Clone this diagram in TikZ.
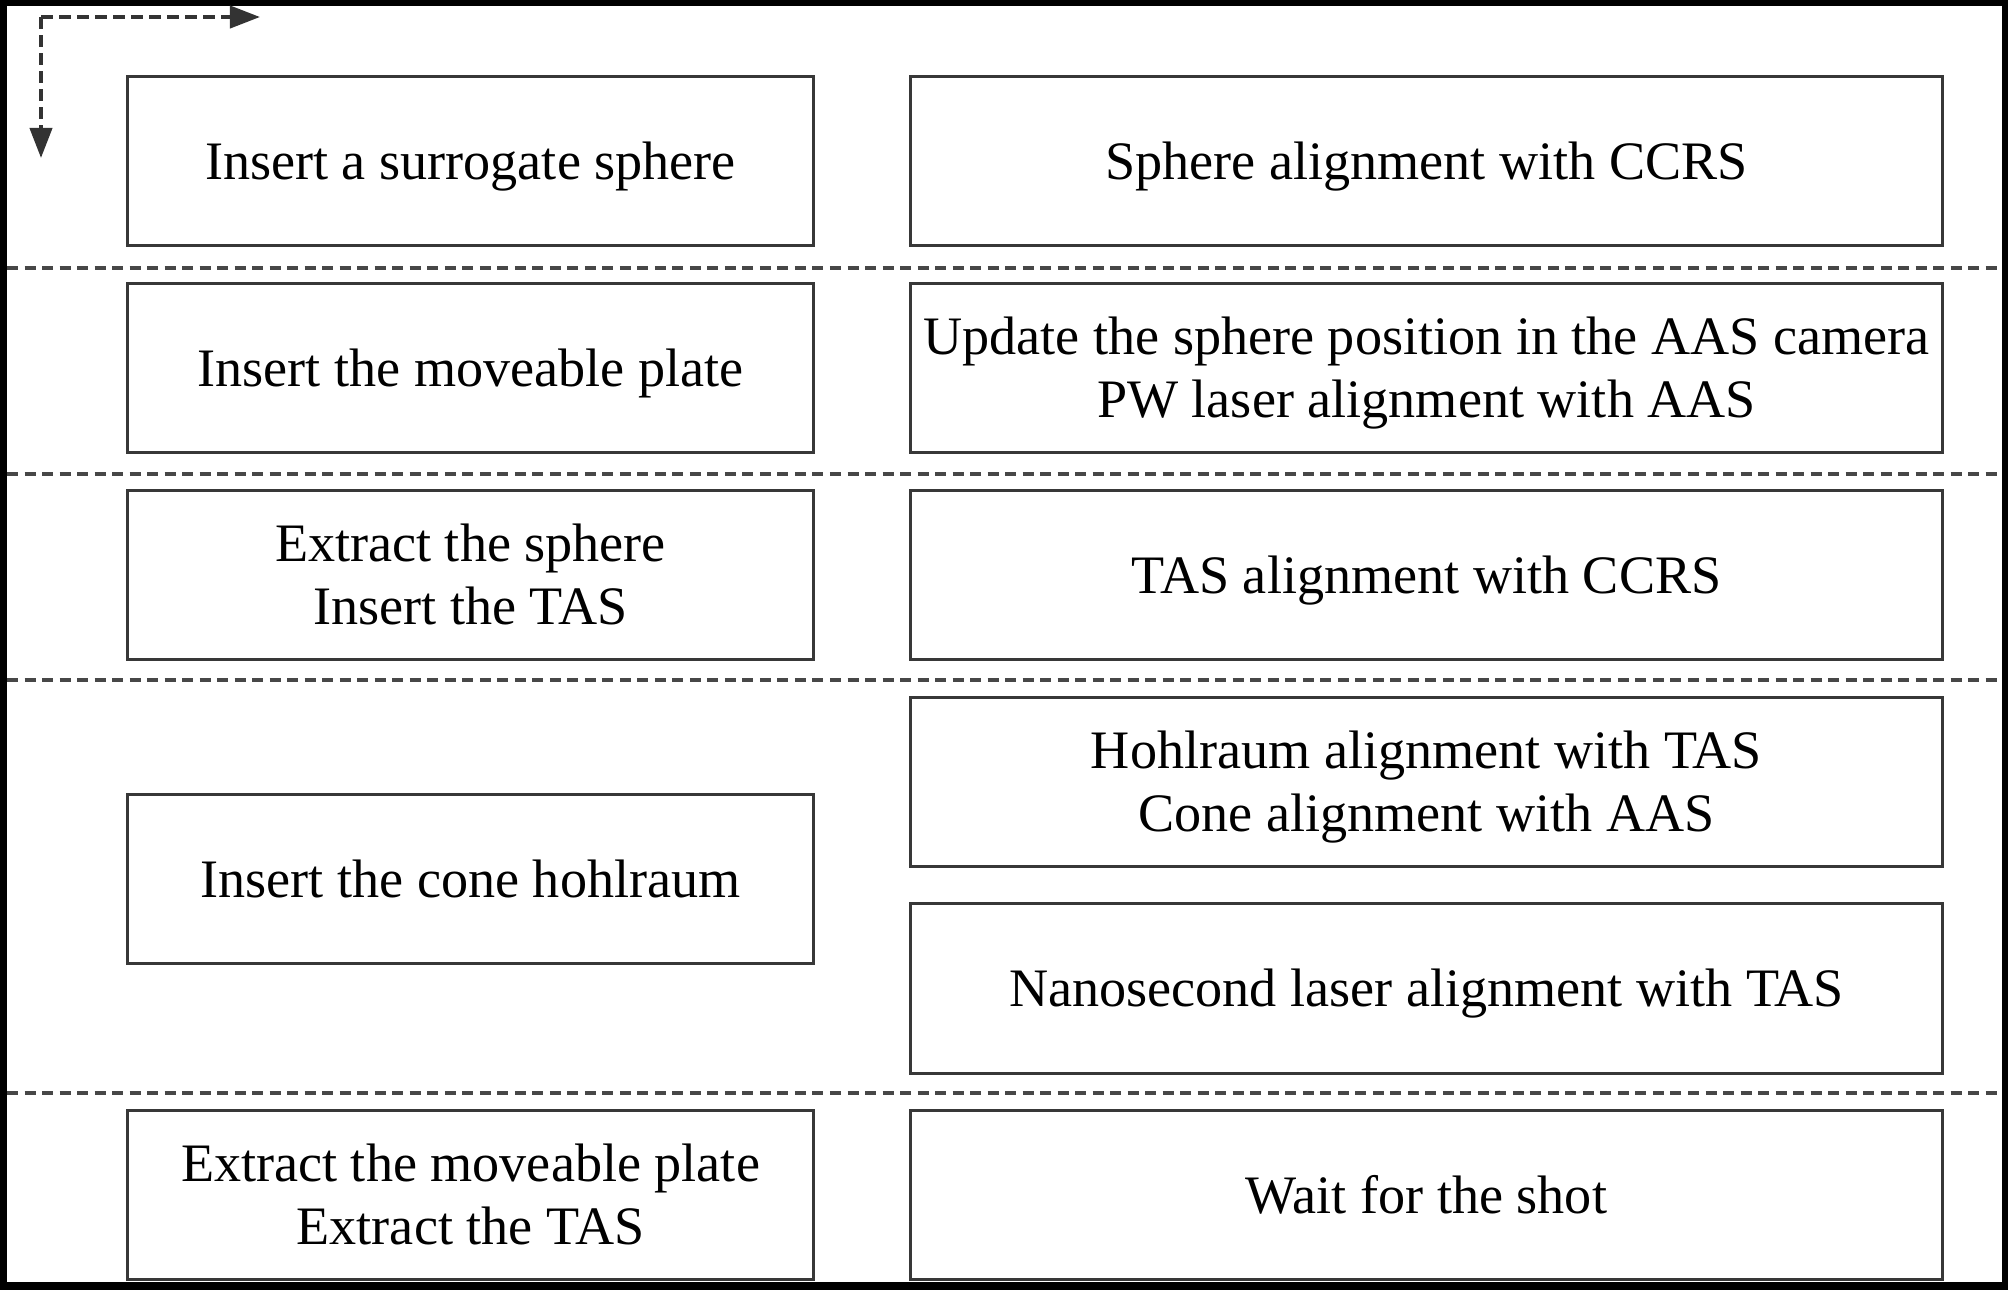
\documentclass[tikz,border=0pt]{standalone}
\usepackage{fontspec}
\setmainfont{Liberation Serif}
\usetikzlibrary{arrows.meta}

\begin{document}
\begin{tikzpicture}[x=0.01cm, y=-0.01cm,
        stage/.style={rectangle, draw=black!78, line width=0.03cm, inner sep=0pt, align=center,
            minimum height=1.69cm, font=\fontsize{15.4}{18}\selectfont,
            execute at begin node={\rule{0pt}{0.5cm}},
            execute at end node={\rule[-0.14cm]{0pt}{0.14cm}}},
        two lines/.style={execute at begin node={\rule{0pt}{1.135cm}}},
        manual/.style={stage, minimum width=6.85cm},
        align step/.style={stage, minimum width=10.31cm},
        divider/.style={black!72, line width=0.035cm, dash pattern=on 0.11cm off 0.065cm},
        flow/.style={black!80, line width=0.04cm, dash pattern=on 0.12cm off 0.06cm,
            -{Triangle[length=0.3cm, width=0.22cm]}}]
        % frame
        \fill[black] (0, 0) rectangle (2008, 1290);
        \fill[white] (7, 6) rectangle (2002, 1282);

        % direction arrows
        \coordinate (corner) at (41, 17);
        \coordinate (east) at (260, 17);
        \coordinate (south) at (41, 158);
        \draw[flow] (corner) -- (east);
        \draw[flow] (corner) -- (south);

        % left column
        \node[manual] (m1) at (470.5, 161) {Insert a surrogate sphere};
        \node[manual] (m2) at (470.5, 368) {Insert the moveable plate};
        \node[manual, two lines] (m3) at (470.5, 575) {Extract the sphere\\Insert the TAS};
        \node[manual] (m4) at (470.5, 879) {Insert the cone hohlraum};
        \node[manual, two lines] (m5) at (470.5, 1195) {Extract the moveable plate\\Extract the TAS};

        % right column
        \node[align step] (a1) at (1426.5, 161) {Sphere alignment with CCRS};
        \node[align step, two lines] (a2) at (1426.5, 368) {Update the sphere position in the AAS camera\\PW laser alignment with AAS};
        \node[align step] (a3) at (1426.5, 575) {TAS alignment with CCRS};
        \node[align step, two lines] (a4) at (1426.5, 782) {Hohlraum alignment with TAS\\Cone alignment with AAS};
        \node[align step] (a5) at (1426.5, 988.5) {Nanosecond laser alignment with TAS};
        \node[align step] (a6) at (1426.5, 1195) {Wait for the shot};

        % stage dividers
        \draw[divider] (7, 268) -- (2002, 268);
        \draw[divider] (7, 474) -- (2002, 474);
        \draw[divider] (7, 680) -- (2002, 680);
        \draw[divider] (7, 1093) -- (2002, 1093);
    \end{tikzpicture}
\end{document}
